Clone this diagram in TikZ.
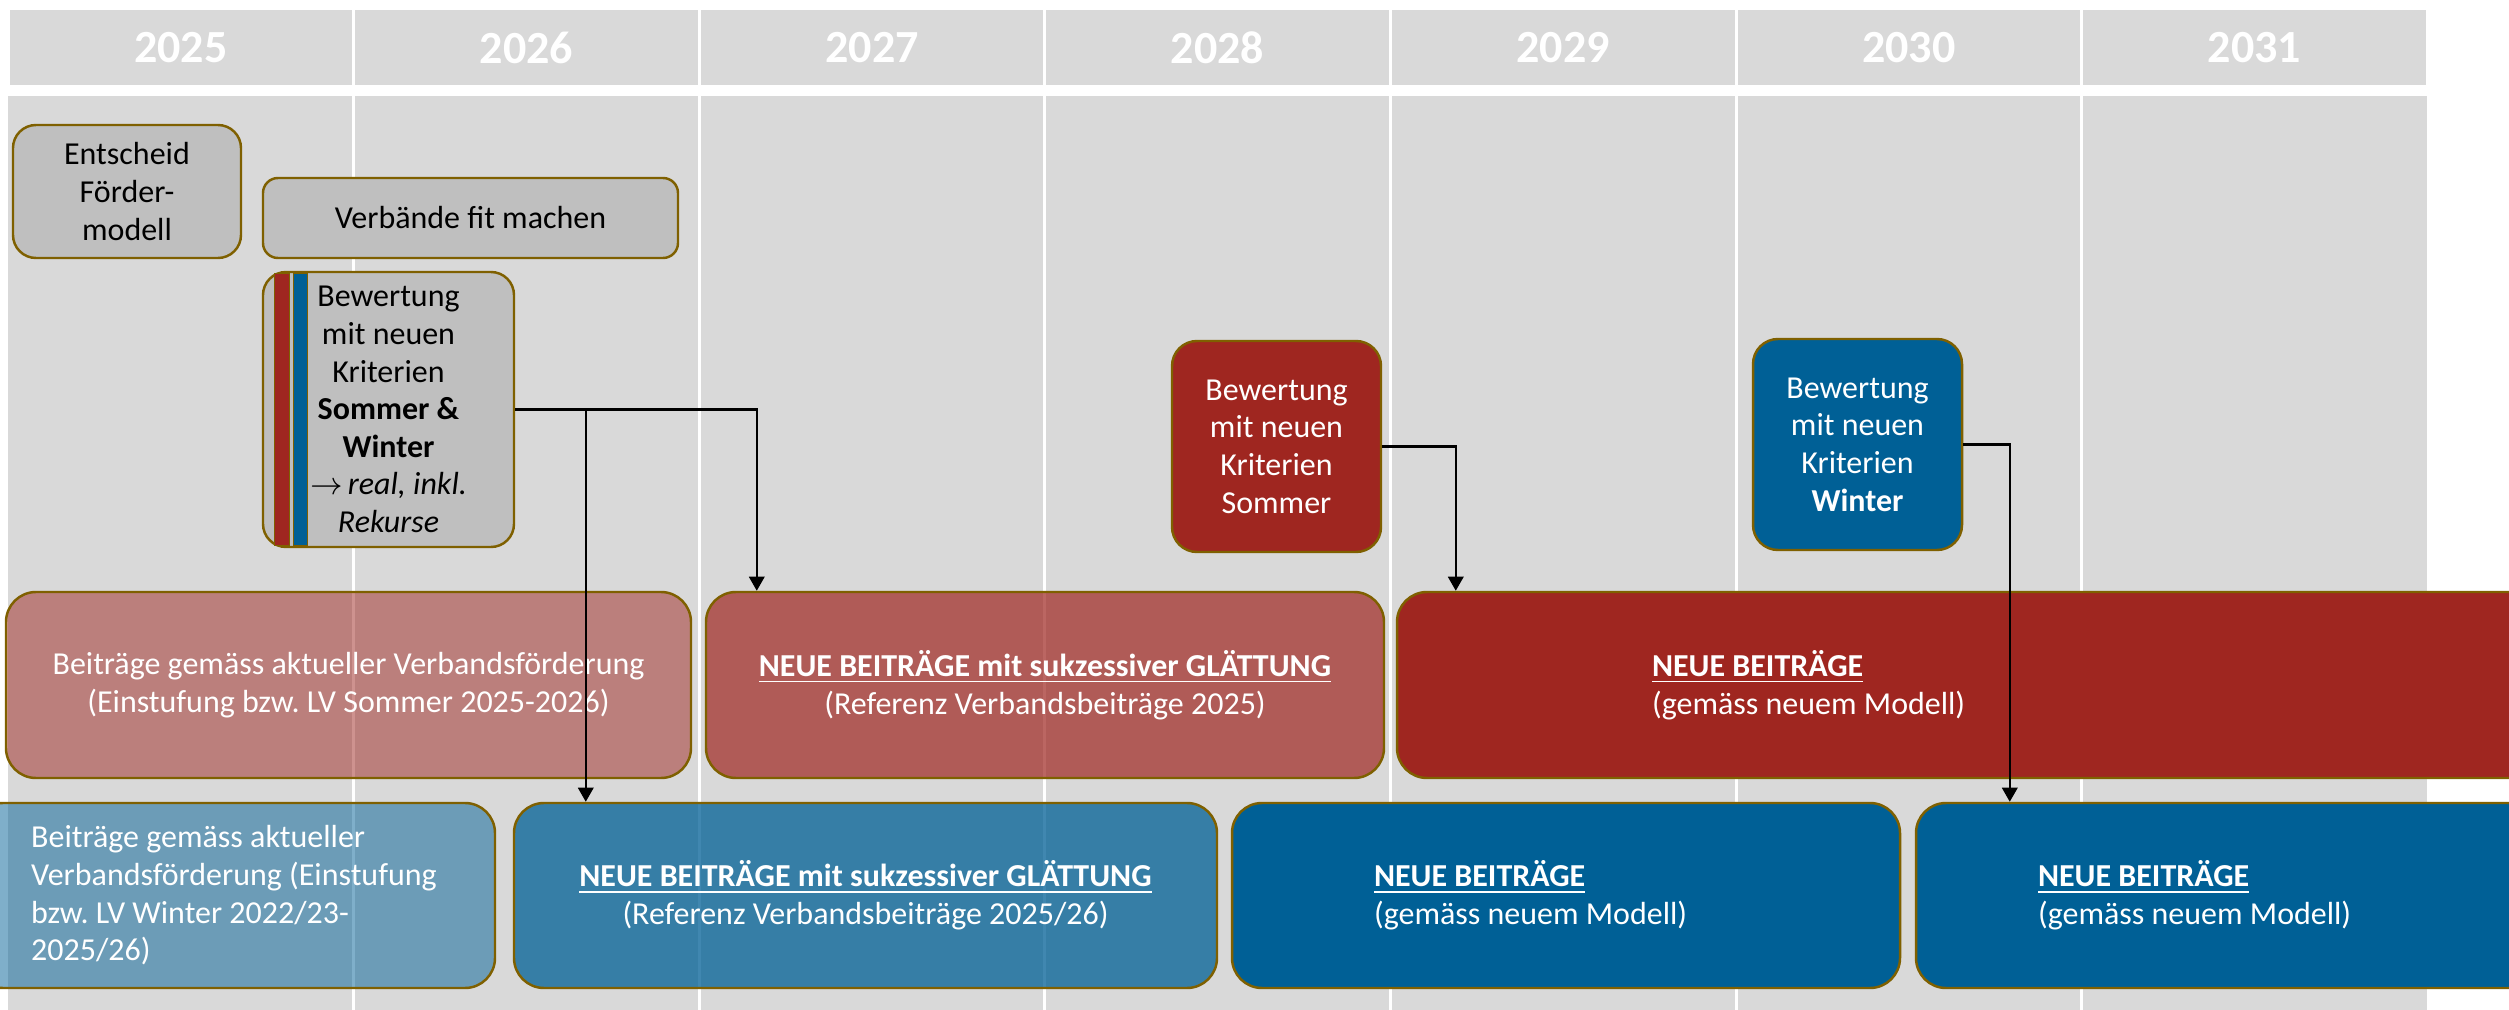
\documentclass[tikz,border=0pt]{standalone}
\usepackage{fontspec}
\setmainfont{Carlito}
\frenchspacing
\usetikzlibrary{calc,arrows.meta}

\definecolor{grau}{HTML}{D9D9D9}
\definecolor{kastengrau}{HTML}{BFBFBF}
\definecolor{rand}{HTML}{7F6000}
\definecolor{rot}{HTML}{9F2620}
\definecolor{blau}{HTML}{006096}

\begin{document}
\begin{tikzpicture}[x=0.1mm, y=-0.1mm, >={Triangle[length=4pt, width=4.4pt]},
    jahr/.style={rectangle, fill=grau, draw=white, line width=0.3mm, minimum width=34.56mm, minimum height=7.8mm, inner sep=0pt, text=white, font=\fontsize{13.1}{15}\selectfont\bfseries},
    kasten/.style={rectangle, draw=rand, line width=0.7pt, inner sep=0pt, align=center, text opacity=1, font=\fontsize{9.1}{10.7}\selectfont},
    graukasten/.style={kasten, fill=kastengrau, rounded corners=2.3mm},
    rotkasten/.style={kasten, fill=rot, text=white, rounded corners=3mm},
    blaukasten/.style={kasten, fill=blau, text=white, rounded corners=3mm},
    pfeil/.style={->, line width=0.6pt}
]
    \useasboundingbox (0,0) rectangle (2509,1010);
    \clip (0,0) rectangle (2509,1010);
    \fill[white] (0,0) rectangle (2509,1010);

    % Jahre
    \foreach \jahr [count=\i from 0] in {2025,...,2031}
        \node[jahr] (j\jahr) at ({8+345.6*(\i+0.5)},48) {\jahr};

    \fill[grau] (8,96) rectangle (2427,1010);
    \foreach \i in {1,...,6}
        \draw[white, line width=0.3mm] ({8+345.6*\i},96) -- ({8+345.6*\i},1010);

    % Vorbereitung
    \node[graukasten, minimum width=22.8mm, minimum height=13.3mm] (entscheid) at (127,191.5) {Entscheid\\Förder-\\modell};
    \node[graukasten, rounded corners=1.5mm, minimum width=41.5mm, minimum height=8mm] (fit) at (470.5,218) {Verbände fit machen};
    \node[graukasten, minimum width=25.1mm, minimum height=27.5mm] (bewertung) at (388.5,409.5)
        {Bewertung\\mit neuen\\Kriterien\\\textbf{Sommer \&}\\\textbf{Winter}\\$\rightarrow$\,\textit{real, inkl.}\\\textit{Rekurse}};
    \draw[rand, fill=rot, line width=0.4pt] ($(bewertung.north west)+(13,3)$) rectangle ($(bewertung.south west)+(28,-3)$);
    \draw[rand, fill=blau, line width=0.4pt] ($(bewertung.north west)+(32,3)$) rectangle ($(bewertung.south west)+(46,-3)$);

    \node[rotkasten, rounded corners=2.5mm, minimum width=20.9mm, minimum height=21.1mm] (sommer) at (1276.5,446.5) {Bewertung\\mit neuen\\Kriterien\\Sommer};
    \node[blaukasten, rounded corners=2.5mm, minimum width=20.9mm, minimum height=21.1mm] (winter) at (1857.5,444.5) {Bewertung\\mit neuen\\Kriterien\\\textbf{Winter}};

    % Sommer
    \node[rotkasten, fill opacity=0.5, minimum width=68.5mm, minimum height=18.6mm] (rot1) at (348.5,685)
        {Beiträge gemäss aktueller Verbandsförderung\\(Einstufung bzw. LV Sommer 2025-2026)};
    \node[rotkasten, fill opacity=0.7, minimum width=67.8mm, minimum height=18.6mm] (rot2) at (1045,685)
        {\underline{\textbf{NEUE BEITRÄGE mit sukzessiver GLÄTTUNG}}\\(Referenz Verbandsbeiträge 2025)};
    \node[rotkasten, align=flush left, inner xsep=25.5mm, text width=69.2mm, minimum height=18.6mm] (rot3) at (1998,685)
        {\underline{\textbf{NEUE BEITRÄGE}}\\(gemäss neuem Modell)};

    % Winter
    \node[blaukasten, fill opacity=0.5, align=flush left, minimum width=52.2mm, minimum height=18.5mm] (blau1) at (234,895.5)
        {Beiträge gemäss aktueller\\Verbandsförderung (Einstufung\\bzw. LV Winter 2022/23-\\2025/26)};
    \node[blaukasten, fill opacity=0.75, minimum width=70.3mm, minimum height=18.5mm] (blau2) at (865.5,895.5)
        {\underline{\textbf{NEUE BEITRÄGE mit sukzessiver GLÄTTUNG}}\\(Referenz Verbandsbeiträge 2025/26)};
    \node[blaukasten, align=flush left, inner xsep=14.2mm, text width=38.4mm, minimum height=18.5mm] (blau3) at (1566,895.5)
        {\underline{\textbf{NEUE BEITRÄGE}}\\(gemäss neuem Modell)};
    \node[blaukasten, align=flush left, inner xsep=12.2mm, text width=44mm, minimum height=18.5mm] (blau4) at (2258,895.5)
        {\underline{\textbf{NEUE BEITRÄGE}}\\(gemäss neuem Modell)};

    % Verbindungen
    \coordinate (zielrot2) at ($(rot2.north west)+(52,0)$);
    \coordinate (zielblau2) at ($(blau2.north west)+(73,0)$);
    \coordinate (zielrot3) at ($(rot3.north west)+(60,0)$);
    \coordinate (zielblau4) at ($(blau4.north west)+(95,0)$);

    \draw[pfeil] (bewertung.east) -| (zielrot2);
    \draw[pfeil] (bewertung.east -| zielblau2) -- (zielblau2);
    \draw[pfeil] (sommer.east) -| (zielrot3);
    \draw[pfeil] (winter.east) -| (zielblau4);
\end{tikzpicture}
\end{document}
